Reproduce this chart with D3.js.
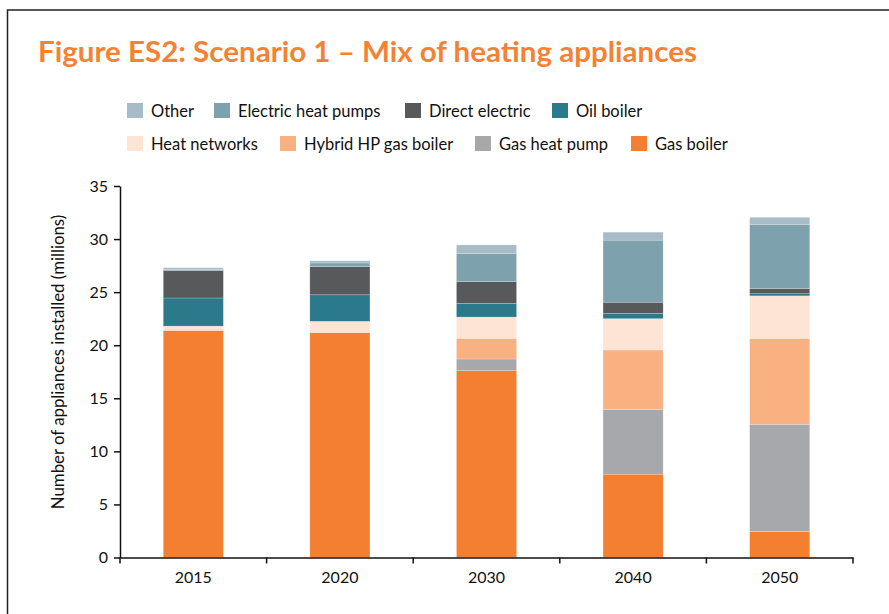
<!DOCTYPE html>
<html>
<head>
<meta charset="utf-8">
<script src="https://cdn.jsdelivr.net/npm/d3@7"></script>
<style>
  body { margin: 0; background: #fff; }
  text { font-family: Lato, "Open Sans", sans-serif; fill: #111; }
</style>
</head>
<body>
<div id="chart"></div>
<script>
// Values (millions of appliances)
const years = ["2015", "2020", "2030", "2040", "2050"];
const gasBoiler      = [21.4, 21.2, 17.6, 7.85, 2.45];
const gasHeatPump    = [0, 0, 1.1, 6.1, 10.1];
const hybridHP       = [0, 0, 1.95, 5.6, 8.1];
const heatNetworks   = [0.4, 1.05, 2.0, 2.95, 4.0];
const oilBoiler      = [2.65, 2.5, 1.3, 0.5, 0.2];
const directElectric = [2.6, 2.65, 2.05, 1.05, 0.5];
const electricHP     = [0.1, 0.35, 2.65, 5.85, 6.0];
const other          = [0.15, 0.2, 0.8, 0.75, 0.7];
const yTicks = [0, 5, 10, 15, 20, 25, 30, 35];

// stacking order, bottom to top
const series = [
  { key: "Gas boiler", values: gasBoiler, color: "#f47f31" },
  { key: "Gas heat pump", values: gasHeatPump, color: "#a7a8ab" },
  { key: "Hybrid HP gas boiler", values: hybridHP, color: "#f9b182" },
  { key: "Heat networks", values: heatNetworks, color: "#fde4d5" },
  { key: "Oil boiler", values: oilBoiler, color: "#2a7a8c" },
  { key: "Direct electric", values: directElectric, color: "#58595b" },
  { key: "Electric heat pumps", values: electricHP, color: "#7da2ae" },
  { key: "Other", values: other, color: "#a7bcc6" }
];

const rows = years.map((yr, i) => {
  const r = { year: yr };
  series.forEach(s => r[s.key] = s.values[i]);
  return r;
});

const width = 889, height = 614;

const svg = d3.select("#chart")
  .append("svg")
  .attr("width", width)
  .attr("height", height);

// frame
svg.append("rect")
  .attr("x", 7.5).attr("y", 10)
  .attr("width", 900).attr("height", 620)
  .attr("fill", "none")
  .attr("stroke", "#222")
  .attr("stroke-width", 1.5);

// title
svg.append("text")
  .attr("x", 38).attr("y", 62)
  .attr("textLength", 659)
  .attr("lengthAdjust", "spacingAndGlyphs")
  .style("font-size", "29px")
  .style("font-weight", "bold")
  .style("fill", "#f58232")
  .text("Figure ES2: Scenario 1 \u2013 Mix of heating appliances");

const x = d3.scaleBand()
  .domain(years)
  .range([120, 853])
  .paddingInner(0.59)
  .paddingOuter(0.295);

const y = d3.scaleLinear()
  .domain([0, 35])
  .range([557.5, 186]);

const stack = d3.stack().keys(series.map(s => s.key));
const stacked = stack(rows);

svg.append("g")
  .selectAll("g")
  .data(stacked)
  .enter().append("g")
  .attr("fill", (d, i) => series[i].color)
  .selectAll("rect")
  .data(d => d)
  .enter().append("rect")
  .attr("x", d => x(d.data.year))
  .attr("y", d => y(d[1]))
  .attr("width", x.bandwidth())
  .attr("height", d => y(d[0]) - y(d[1]))
  .attr("stroke", "#fff")
  .attr("stroke-opacity", 0.35)
  .attr("stroke-width", 0.6);

// y axis
const yAxis = svg.append("g")
  .attr("transform", "translate(120,0)")
  .call(d3.axisLeft(y).tickValues(yTicks).tickSize(6).tickSizeOuter(0).tickPadding(6));
yAxis.selectAll("text").style("font-size", "16px").style("font-family", "Lato, sans-serif").attr("fill", "#111");
yAxis.selectAll("line, path").attr("stroke", "#111").attr("stroke-width", 1.5);

// x axis: labels centered, ticks on category boundaries
const xAxis = svg.append("g")
  .attr("transform", "translate(0,557.5)")
  .call(d3.axisBottom(x).tickSize(0).tickSizeOuter(0).tickPadding(14));
xAxis.selectAll("text").style("font-size", "16px").style("font-family", "Lato, sans-serif").attr("fill", "#111");
xAxis.select("path").attr("stroke", "#111").attr("stroke-width", 1.5);
xAxis.selectAll(".bound")
  .data(d3.range(years.length + 1))
  .enter().append("line")
  .attr("class", "bound")
  .attr("x1", i => x.range()[0] + i * x.step())
  .attr("x2", i => x.range()[0] + i * x.step())
  .attr("y1", 0).attr("y2", 6)
  .attr("stroke", "#111")
  .attr("stroke-width", 1.5);

// y axis title
svg.append("text")
  .attr("transform", "translate(64,362) rotate(-90)")
  .attr("text-anchor", "middle")
  .style("font-size", "16.8px")
  .text("Number of appliances installed (millions)");

// legend, two rows as in the figure
const legendItems = [
  { key: "Other", x: 127, y: 103 },
  { key: "Electric heat pumps", x: 214, y: 103 },
  { key: "Direct electric", x: 405, y: 103 },
  { key: "Oil boiler", x: 552, y: 103 },
  { key: "Heat networks", x: 127, y: 136 },
  { key: "Hybrid HP gas boiler", x: 280, y: 136 },
  { key: "Gas heat pump", x: 475, y: 136 },
  { key: "Gas boiler", x: 631, y: 136 }
];

const legend = svg.append("g")
  .selectAll("g")
  .data(legendItems)
  .enter().append("g")
  .attr("transform", d => "translate(" + d.x + "," + d.y + ")");

legend.append("rect")
  .attr("width", 16).attr("height", 15)
  .attr("fill", d => series.find(s => s.key === d.key).color);

legend.append("text")
  .attr("x", 24).attr("y", 14)
  .style("font-size", "16.5px")
  .text(d => d.key);
</script>
</body>
</html>
